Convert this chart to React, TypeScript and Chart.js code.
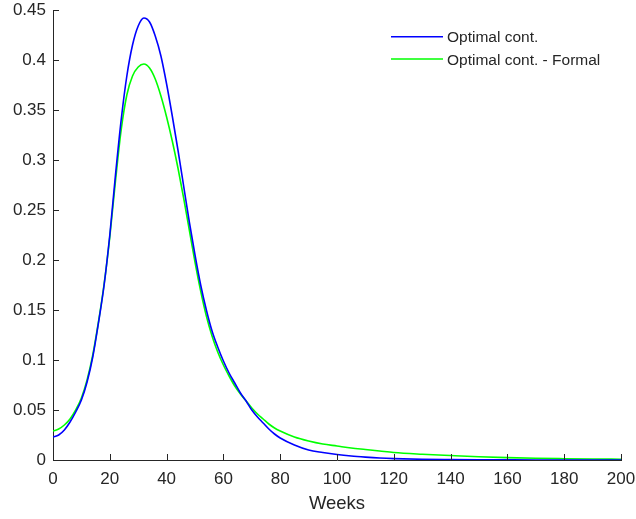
import React, { useEffect, useRef } from 'react';
import { Chart, registerables } from 'chart.js';

Chart.register(...registerables);

const weeks = [
  0, 2, 4, 6, 8, 10, 12, 14, 16, 18, 20, 22, 24, 26, 28, 30, 32, 34, 36, 38,
  40, 42, 44, 46, 48, 50, 52, 54, 56, 58, 60, 62, 64, 66, 68, 70, 72, 74, 76, 78,
  80, 85, 90, 95, 100, 105, 110, 115, 120, 130, 140, 150, 160, 170, 180, 190, 200,
];

const optimalCont = [
  0.023, 0.025, 0.03, 0.038, 0.048, 0.06, 0.078, 0.103, 0.137, 0.175, 0.225, 0.285, 0.34, 0.384, 0.415, 0.434, 0.442, 0.438, 0.424, 0.404,
  0.376, 0.344, 0.31, 0.274, 0.238, 0.205, 0.175, 0.15, 0.129, 0.113, 0.099, 0.087, 0.077, 0.067, 0.059, 0.05, 0.043, 0.037, 0.031, 0.026,
  0.022, 0.015, 0.01, 0.0075, 0.0055, 0.004, 0.0029, 0.002, 0.0014, 0.0007, 0.0004, 0.0002, 0.0001, 0.00006, 0.00004, 0.00002, 0.00001,
];

const optimalContFormal = [
  0.029, 0.031, 0.035, 0.041, 0.05, 0.062, 0.08, 0.105, 0.138, 0.176, 0.223, 0.279, 0.33, 0.365, 0.384, 0.393, 0.396, 0.392, 0.381, 0.364,
  0.343, 0.319, 0.292, 0.262, 0.23, 0.198, 0.169, 0.144, 0.124, 0.108, 0.095, 0.084, 0.074, 0.066, 0.059, 0.052, 0.046, 0.041, 0.036, 0.032,
  0.029, 0.023, 0.019, 0.016, 0.014, 0.012, 0.0105, 0.009, 0.0075, 0.0058, 0.0045, 0.0033, 0.0024, 0.0017, 0.0013, 0.001, 0.0008,
];

const xTicks = [0, 20, 40, 60, 80, 100, 120, 140, 160, 180, 200];
const yTicks = [0, 0.05, 0.1, 0.15, 0.2, 0.25, 0.3, 0.35, 0.4, 0.45];
const seriesLabels = ['Optimal cont.', 'Optimal cont. - Formal'];
const seriesColors = ['#0000ff', '#00ff00'];
const xTitle = 'Weeks';

const AXIS = '#262626';
const FONT = "'Liberation Sans', Arial, Helvetica, sans-serif";

const inwardTicks = {
  id: 'inwardTicks',
  afterDraw(chart: any) {
    const { ctx, chartArea, scales } = chart;
    ctx.save();
    ctx.strokeStyle = AXIS;
    ctx.lineWidth = 1;
    ctx.beginPath();
    scales.x.ticks.forEach((t: any) => {
      const px = Math.round(scales.x.getPixelForValue(t.value)) + 0.5;
      ctx.moveTo(px, chartArea.bottom);
      ctx.lineTo(px, chartArea.bottom - 6);
    });
    scales.y.ticks.forEach((t: any) => {
      const py = Math.round(scales.y.getPixelForValue(t.value)) + 0.5;
      ctx.moveTo(chartArea.left, py);
      ctx.lineTo(chartArea.left + 6, py);
    });
    ctx.stroke();
    ctx.restore();
  },
};

const lineLegend = {
  id: 'lineLegend',
  afterDraw(chart: any) {
    const { ctx, chartArea } = chart;
    const x0 = chartArea.right - 230;
    ctx.save();
    chart.data.datasets.forEach((ds: any, i: number) => {
      const y = chartArea.top + 26.7 + i * 22.3;
      ctx.strokeStyle = ds.borderColor;
      ctx.lineWidth = 1.5;
      ctx.beginPath();
      ctx.moveTo(x0, y);
      ctx.lineTo(x0 + 52, y);
      ctx.stroke();
      ctx.fillStyle = AXIS;
      ctx.font = `15.5px ${FONT}`;
      ctx.textBaseline = 'middle';
      ctx.textAlign = 'left';
      ctx.fillText(ds.label, x0 + 56, y + 1.5);
    });
    ctx.restore();
  },
};

export default function App() {
  const canvasRef = useRef<HTMLCanvasElement | null>(null);

  useEffect(() => {
    document.body.style.margin = '0';
    const canvas = canvasRef.current;
    if (!canvas) return;
    const series = [optimalCont, optimalContFormal];
    const chart = new Chart(canvas, {
      type: 'line',
      data: {
        datasets: series.map((vals, i) => ({
          label: seriesLabels[i],
          data: weeks.map((w, j) => ({ x: w, y: vals[j] })),
          borderColor: seriesColors[i],
          backgroundColor: seriesColors[i],
          borderWidth: 1.6,
          pointRadius: 0,
          fill: false,
          cubicInterpolationMode: 'monotone' as const,
        })),
      },
      options: {
        animation: false,
        responsive: true,
        maintainAspectRatio: false,
        layout: { padding: { top: 10, right: 15, left: 0, bottom: 0 } },
        plugins: {
          legend: { display: false },
          tooltip: { enabled: false },
        },
        scales: {
          x: {
            type: 'linear',
            min: 0,
            max: 200,
            grid: { display: false, drawTicks: false },
            border: { display: true, color: AXIS, width: 1 },
            afterBuildTicks: (scale: any) => {
              scale.ticks = xTicks.map((v) => ({ value: v }));
            },
            afterFit: (scale: any) => {
              scale.height = 59;
              scale.paddingLeft = 0;
              scale.paddingRight = 0;
            },
            ticks: {
              color: AXIS,
              font: { family: FONT, size: 17 },
              padding: 9,
              maxRotation: 0,
              callback: (v: any) => String(v),
            },
            title: {
              display: true,
              text: xTitle,
              color: AXIS,
              font: { family: FONT, size: 18.5 },
              padding: { top: 0, bottom: 4 },
            },
          },
          y: {
            type: 'linear',
            min: 0,
            max: 0.45,
            grid: { display: false, drawTicks: false },
            border: { display: true, color: AXIS, width: 1 },
            afterBuildTicks: (scale: any) => {
              scale.ticks = yTicks.map((v) => ({ value: v }));
            },
            afterFit: (scale: any) => {
              scale.width = 53;
              scale.paddingTop = 0;
              scale.paddingBottom = 0;
            },
            ticks: {
              color: AXIS,
              font: { family: FONT, size: 17 },
              padding: 7,
              callback: (v: any) => String(Number(Number(v).toFixed(2))),
            },
          },
        },
      },
      plugins: [inwardTicks, lineLegend],
    });
    return () => chart.destroy();
  }, []);

  return (
    <div style={{ position: 'relative', width: 636, height: 519 }}>
      <canvas ref={canvasRef} />
    </div>
  );
}
